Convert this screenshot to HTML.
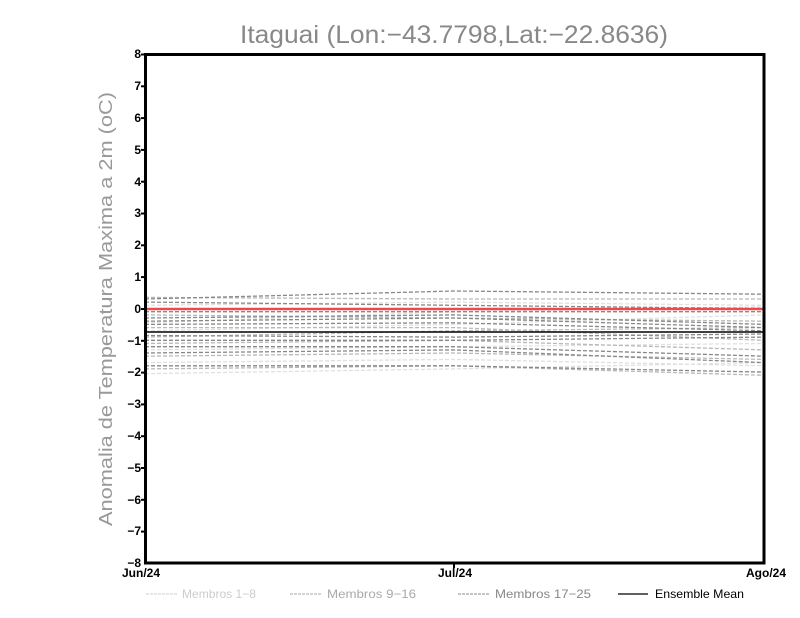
<!DOCTYPE html>
<html><head><meta charset="utf-8"><style>
html,body{margin:0;padding:0;background:#fff;}
svg{display:block;font-family:"Liberation Sans",sans-serif;}
</style></head><body>
<svg width="800" height="618" viewBox="0 0 800 618" xmlns="http://www.w3.org/2000/svg">
<rect width="800" height="618" fill="#fff"/>
<text x="454" y="43" text-anchor="middle" font-size="25" fill="#888" textLength="428" lengthAdjust="spacingAndGlyphs">Itaguai (Lon:−43.7798,Lat:−22.8636)</text>
<text transform="translate(112,309) rotate(-90)" text-anchor="middle" font-size="18" fill="#999" textLength="434" lengthAdjust="spacingAndGlyphs">Anomalia de Temperatura Maxima a 2m (oC)</text>
<g id="lines" fill="none" stroke-dasharray="4,2" stroke-width="1.3">
<g stroke="#e0e0e0">
<polyline points="145,305.3 454,302.1 764,305.3"/>
<polyline points="145,330.8 454,324.4 764,314.9"/>
<polyline points="145,349.9 454,346.7 764,343.5"/>
<polyline points="145,362.6 454,359.4 764,365.8"/>
<polyline points="145,373.7 454,368.9 764,362.6"/>
<polyline points="145,322.8 454,311.7 764,306.9"/>
</g>
<g stroke="#b8b8b8">
<polyline points="145,297.4 454,299.0 764,299.0"/>
<polyline points="145,314.9 454,318.0 764,321.2"/>
<polyline points="145,327.6 454,327.6 764,340.3"/>
<polyline points="145,337.1 454,330.8 764,327.6"/>
<polyline points="145,343.5 454,340.3 764,349.9"/>
<polyline points="145,356.2 454,353.0 764,359.4"/>
<polyline points="145,368.9 454,365.8 764,375.3"/>
</g>
<g stroke="#888">
<polyline points="145,299.0 454,291.0 764,294.2"/>
<polyline points="145,302.1 454,305.3 764,308.5"/>
<polyline points="145,318.0 454,314.9 764,324.4"/>
<polyline points="145,321.2 454,318.0 764,327.6"/>
<polyline points="145,324.4 454,322.8 764,330.8"/>
<polyline points="145,335.5 454,337.1 764,334.0"/>
<polyline points="145,340.3 454,340.3 764,337.1"/>
<polyline points="145,346.7 454,346.7 764,356.2"/>
<polyline points="145,353.0 454,349.9 764,362.6"/>
<polyline points="145,365.8 454,365.8 764,372.1"/>
<polyline points="145,311.7 454,311.7 764,311.7"/>
</g>
</g>
<line x1="145" y1="309" x2="764" y2="309" stroke="#f04848" stroke-width="2.5"/>
<line x1="145" y1="332" x2="764" y2="332" stroke="#000" stroke-width="1.5"/>
<rect x="145.5" y="54.5" width="618.5" height="508.5" fill="none" stroke="#000" stroke-width="3"/>
<g font-size="12" font-weight="bold" text-anchor="end" fill="#000">
<text x="141" y="58">8</text><text x="141" y="90">7</text><text x="141" y="122">6</text><text x="141" y="154">5</text>
<text x="141" y="186">4</text><text x="141" y="217">3</text><text x="141" y="249">2</text><text x="141" y="281">1</text>
<text x="141" y="313">0</text><text x="141" y="345">−1</text><text x="141" y="376">−2</text><text x="141" y="408">−3</text>
<text x="141" y="440">−4</text><text x="141" y="472">−5</text><text x="141" y="504">−6</text><text x="141" y="535">−7</text>
<text x="141" y="567">−8</text>
</g>
<g stroke="#000" stroke-width="2">
<line x1="141" y1="54.5" x2="146" y2="54.5"/><line x1="141" y1="86.3" x2="146" y2="86.3"/><line x1="141" y1="118.1" x2="146" y2="118.1"/><line x1="141" y1="149.9" x2="146" y2="149.9"/>
<line x1="141" y1="181.7" x2="146" y2="181.7"/><line x1="141" y1="213.5" x2="146" y2="213.5"/><line x1="141" y1="245.3" x2="146" y2="245.3"/><line x1="141" y1="277.1" x2="146" y2="277.1"/>
<line x1="141" y1="309" x2="146" y2="309"/><line x1="141" y1="340.8" x2="146" y2="340.8"/><line x1="141" y1="372.6" x2="146" y2="372.6"/><line x1="141" y1="404.4" x2="146" y2="404.4"/>
<line x1="141" y1="436.2" x2="146" y2="436.2"/><line x1="141" y1="468" x2="146" y2="468"/><line x1="141" y1="499.8" x2="146" y2="499.8"/><line x1="141" y1="531.6" x2="146" y2="531.6"/>
<line x1="454" y1="563" x2="454" y2="568"/>
</g>
<g font-size="12" font-weight="bold" fill="#000">
<text x="122" y="577">Jun/24</text>
<text x="438" y="577">Jul/24</text>
<text x="746" y="577">Ago/24</text>
</g>
<g font-size="12">
<line x1="146" y1="594" x2="178" y2="594" stroke="#ccc" stroke-dasharray="3,1"/>
<text x="182" y="598" fill="#ccc" textLength="74" lengthAdjust="spacingAndGlyphs">Membros 1−8</text>
<line x1="290" y1="594" x2="322" y2="594" stroke="#aaa" stroke-dasharray="3,1"/>
<text x="327" y="598" fill="#aaa" textLength="89" lengthAdjust="spacingAndGlyphs">Membros 9−16</text>
<line x1="458" y1="594" x2="490" y2="594" stroke="#888" stroke-dasharray="3,1"/>
<text x="495" y="598" fill="#888" textLength="96" lengthAdjust="spacingAndGlyphs">Membros 17−25</text>
<line x1="618" y1="594" x2="648" y2="594" stroke="#000" stroke-width="1.2"/>
<text x="655" y="598" fill="#000" textLength="89" lengthAdjust="spacingAndGlyphs">Ensemble Mean</text>
</g>
</svg>
</body></html>
